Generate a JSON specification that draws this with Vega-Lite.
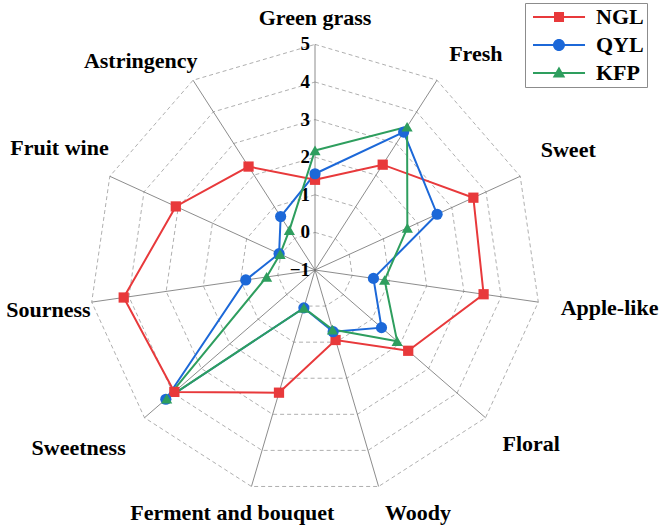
{
  "$schema": "https://vega.github.io/schema/vega-lite/v6.json",
  "width": 666,
  "height": 529,
  "autosize": {"type": "none"},
  "padding": 0,
  "background": "white",
  "config": {"view": {"stroke": null}, "font": "Liberation Serif"},
  "datasets": {
    "scores": [
      {"attribute": "Green grass", "i": 0, "sample": "NGL", "value": 1.4},
      {"attribute": "Fresh", "i": 1, "sample": "NGL", "value": 2.33},
      {"attribute": "Sweet", "i": 2, "sample": "NGL", "value": 3.63},
      {"attribute": "Apple-like", "i": 3, "sample": "NGL", "value": 3.53},
      {"attribute": "Floral", "i": 4, "sample": "NGL", "value": 2.28},
      {"attribute": "Woody", "i": 5, "sample": "NGL", "value": 0.94},
      {"attribute": "Ferment and bouquet", "i": 6, "sample": "NGL", "value": 2.4},
      {"attribute": "Sweetness", "i": 7, "sample": "NGL", "value": 3.95},
      {"attribute": "Sourness", "i": 8, "sample": "NGL", "value": 4.14},
      {"attribute": "Fruit wine", "i": 9, "sample": "NGL", "value": 3.07},
      {"attribute": "Astringency", "i": 10, "sample": "NGL", "value": 2.27},
      {"attribute": "Green grass", "i": 0, "sample": "QYL", "value": 1.56},
      {"attribute": "Fresh", "i": 1, "sample": "QYL", "value": 3.36},
      {"attribute": "Sweet", "i": 2, "sample": "QYL", "value": 2.57},
      {"attribute": "Apple-like", "i": 3, "sample": "QYL", "value": 0.57},
      {"attribute": "Floral", "i": 4, "sample": "QYL", "value": 1.34},
      {"attribute": "Woody", "i": 5, "sample": "QYL", "value": 0.71},
      {"attribute": "Ferment and bouquet", "i": 6, "sample": "QYL", "value": 0.05},
      {"attribute": "Sweetness", "i": 7, "sample": "QYL", "value": 4.25},
      {"attribute": "Sourness", "i": 8, "sample": "QYL", "value": 0.86},
      {"attribute": "Fruit wine", "i": 9, "sample": "QYL", "value": 0.05},
      {"attribute": "Astringency", "i": 10, "sample": "QYL", "value": 0.69},
      {"attribute": "Green grass", "i": 0, "sample": "KFP", "value": 2.18},
      {"attribute": "Fresh", "i": 1, "sample": "KFP", "value": 3.53},
      {"attribute": "Sweet", "i": 2, "sample": "KFP", "value": 1.7},
      {"attribute": "Apple-like", "i": 3, "sample": "KFP", "value": 0.87},
      {"attribute": "Floral", "i": 4, "sample": "KFP", "value": 1.89},
      {"attribute": "Woody", "i": 5, "sample": "KFP", "value": 0.65},
      {"attribute": "Ferment and bouquet", "i": 6, "sample": "KFP", "value": 0.05},
      {"attribute": "Sweetness", "i": 7, "sample": "KFP", "value": 4.22},
      {"attribute": "Sourness", "i": 8, "sample": "KFP", "value": 0.3},
      {"attribute": "Fruit wine", "i": 9, "sample": "KFP", "value": 0.02},
      {"attribute": "Astringency", "i": 10, "sample": "KFP", "value": 0.26}
    ],
    "axes": [
      {"axis": "Green grass", "i": 0, "rings": [0, 1, 2, 3, 4, 5]},
      {"axis": "Fresh", "i": 1, "rings": [0, 1, 2, 3, 4, 5]},
      {"axis": "Sweet", "i": 2, "rings": [0, 1, 2, 3, 4, 5]},
      {"axis": "Apple-like", "i": 3, "rings": [0, 1, 2, 3, 4, 5]},
      {"axis": "Floral", "i": 4, "rings": [0, 1, 2, 3, 4, 5]},
      {"axis": "Woody", "i": 5, "rings": [0, 1, 2, 3, 4, 5]},
      {"axis": "Ferment and bouquet", "i": 6, "rings": [0, 1, 2, 3, 4, 5]},
      {"axis": "Sweetness", "i": 7, "rings": [0, 1, 2, 3, 4, 5]},
      {"axis": "Sourness", "i": 8, "rings": [0, 1, 2, 3, 4, 5]},
      {"axis": "Fruit wine", "i": 9, "rings": [0, 1, 2, 3, 4, 5]},
      {"axis": "Astringency", "i": 10, "rings": [0, 1, 2, 3, 4, 5]}
    ],
    "ticks": [
      {"level": -1}, {"level": 0}, {"level": 1}, {"level": 2}, {"level": 3}, {"level": 4}, {"level": 5}
    ]
  },
  "layer": [
    {
      "data": {"name": "axes"},
      "transform": [
        {"flatten": ["rings"]},
        {"calculate": "datum.i * 2 * PI / 11", "as": "ang"},
        {"calculate": "(datum.rings + 1) * sin(datum.ang)", "as": "px"},
        {"calculate": "(datum.rings + 1) * cos(datum.ang)", "as": "py"}
      ],
      "mark": {"type": "line", "interpolate": "linear-closed", "stroke": "#9a9a9a", "strokeWidth": 0.8, "strokeDash": [4, 3]},
      "encoding": {
        "x": {"field": "px", "type": "quantitative", "scale": {"domain": [-8.378, 9.335], "nice": false, "zero": false}, "axis": null},
        "y": {"field": "py", "type": "quantitative", "scale": {"domain": [-6.888, 7.181], "nice": false, "zero": false}, "axis": null},
        "detail": {"field": "rings", "type": "nominal"},
        "order": {"field": "i", "type": "quantitative"}
      }
    },
    {
      "data": {"name": "axes"},
      "transform": [
        {"calculate": "datum.i * 2 * PI / 11", "as": "ang"},
        {"calculate": "0", "as": "cx"},
        {"calculate": "6 * sin(datum.ang)", "as": "ox"},
        {"calculate": "6 * cos(datum.ang)", "as": "oy"}
      ],
      "mark": {"type": "rule", "stroke": "#6e6e6e", "strokeWidth": 0.8},
      "encoding": {
        "x": {"field": "cx", "type": "quantitative"},
        "y": {"field": "cx", "type": "quantitative"},
        "x2": {"field": "ox"},
        "y2": {"field": "oy"}
      }
    },
    {
      "data": {"name": "ticks"},
      "transform": [
        {"calculate": "0", "as": "cx"},
        {"calculate": "datum.level + 1", "as": "r"}
      ],
      "mark": {"type": "text", "align": "right", "baseline": "middle", "dx": -5, "fontSize": 19, "fontWeight": "bold", "font": "Liberation Serif", "color": "black"},
      "encoding": {
        "x": {"field": "cx", "type": "quantitative"},
        "y": {"field": "r", "type": "quantitative"},
        "text": {"field": "level", "type": "quantitative"}
      }
    },
    {
      "data": {"name": "scores"},
      "transform": [
        {"calculate": "datum.i * 2 * PI / 11", "as": "ang"},
        {"calculate": "(datum.value + 1) * sin(datum.ang)", "as": "px"},
        {"calculate": "(datum.value + 1) * cos(datum.ang)", "as": "py"}
      ],
      "mark": {"type": "line", "interpolate": "linear-closed", "strokeWidth": 2},
      "encoding": {
        "x": {"field": "px", "type": "quantitative"},
        "y": {"field": "py", "type": "quantitative"},
        "order": {"field": "i", "type": "quantitative"},
        "color": {
          "field": "sample",
          "type": "nominal",
          "scale": {"domain": ["NGL", "QYL", "KFP"], "range": ["#E8393B", "#1C68D8", "#2E9E5E"]},
          "legend": {
            "title": null,
            "orient": "none",
            "legendX": 525,
            "legendY": 3,
            "direction": "vertical",
            "strokeColor": "#8c8c8c",
            "fillColor": "white",
            "padding": 3,
            "rowPadding": 6,
            "labelFont": "Liberation Serif",
            "labelFontSize": 22,
            "labelFontWeight": "bold",
            "labelColor": "black",
            "labelOffset": 46,
            "symbolSize": 144,
            "symbolStrokeWidth": 0,
            "symbolOpacity": 1
          }
        }
      }
    },
    {
      "data": {"name": "scores"},
      "transform": [
        {"calculate": "datum.i * 2 * PI / 11", "as": "ang"},
        {"calculate": "(datum.value + 1) * sin(datum.ang)", "as": "px"},
        {"calculate": "(datum.value + 1) * cos(datum.ang)", "as": "py"}
      ],
      "mark": {"type": "point", "filled": true, "opacity": 0, "size": 10},
      "encoding": {
        "x": {"field": "px", "type": "quantitative"},
        "y": {"field": "py", "type": "quantitative"},
        "color": {"field": "sample", "type": "nominal"},
        "shape": {
          "field": "sample",
          "type": "nominal",
          "scale": {
            "domain": ["NGL", "QYL", "KFP"],
            "range": [
              "M-1,-0.17H7.67V0.17H-1ZM2.5,-0.83H4.17V0.83H2.5Z",
              "M-1,-0.17H7.67V0.17H-1ZM4.33,0A1,1,0,1,1,2.33,0A1,1,0,1,1,4.33,0Z",
              "M-1,-0.17H7.67V0.17H-1ZM3.33,-1.1L4.38,0.75H2.28Z"
            ]
          },
          "legend": {
            "title": null,
            "orient": "none",
            "legendX": 525,
            "legendY": 3,
            "direction": "vertical",
            "strokeColor": "#8c8c8c",
            "fillColor": "white",
            "padding": 3,
            "rowPadding": 6,
            "labelFont": "Liberation Serif",
            "labelFontSize": 22,
            "labelFontWeight": "bold",
            "labelColor": "black",
            "labelOffset": 46,
            "symbolSize": 144,
            "symbolStrokeWidth": 0,
            "symbolOpacity": 1
          }
        }
      }
    },
    {
      "data": {"name": "scores"},
      "transform": [
        {"filter": "datum.sample === 'NGL'"},
        {"calculate": "datum.i * 2 * PI / 11", "as": "ang"},
        {"calculate": "(datum.value + 1) * sin(datum.ang)", "as": "px"},
        {"calculate": "(datum.value + 1) * cos(datum.ang)", "as": "py"}
      ],
      "mark": {"type": "point", "filled": true, "opacity": 1, "size": 105, "shape": "square"},
      "encoding": {
        "x": {"field": "px", "type": "quantitative"},
        "y": {"field": "py", "type": "quantitative"},
        "color": {"field": "sample", "type": "nominal"}
      }
    },
    {
      "data": {"name": "scores"},
      "transform": [
        {"filter": "datum.sample === 'QYL'"},
        {"calculate": "datum.i * 2 * PI / 11", "as": "ang"},
        {"calculate": "(datum.value + 1) * sin(datum.ang)", "as": "px"},
        {"calculate": "(datum.value + 1) * cos(datum.ang)", "as": "py"}
      ],
      "mark": {"type": "point", "filled": true, "opacity": 1, "size": 125, "shape": "circle"},
      "encoding": {
        "x": {"field": "px", "type": "quantitative"},
        "y": {"field": "py", "type": "quantitative"},
        "color": {"field": "sample", "type": "nominal"}
      }
    },
    {
      "data": {"name": "scores"},
      "transform": [
        {"filter": "datum.sample === 'KFP'"},
        {"calculate": "datum.i * 2 * PI / 11", "as": "ang"},
        {"calculate": "(datum.value + 1) * sin(datum.ang)", "as": "px"},
        {"calculate": "(datum.value + 1) * cos(datum.ang)", "as": "py"}
      ],
      "mark": {"type": "point", "filled": true, "opacity": 1, "size": 125, "shape": "triangle-up"},
      "encoding": {
        "x": {"field": "px", "type": "quantitative"},
        "y": {"field": "py", "type": "quantitative"},
        "color": {"field": "sample", "type": "nominal"}
      }
    },
    {
      "data": {"name": "axes"},
      "transform": [
        {"calculate": "datum.i * 2 * PI / 11", "as": "ang"},
        {"filter": "sin(datum.ang) > 0.1"},
        {"calculate": "6.6 * sin(datum.ang)", "as": "lx"},
        {"calculate": "6 * cos(datum.ang) + (cos(datum.ang) > 0.3 ? 0.7 : cos(datum.ang) < -0.3 ? -0.7 : -0.15)", "as": "ly"}
      ],
      "mark": {"type": "text", "align": "left", "baseline": "middle", "fontSize": 22, "fontWeight": "bold", "font": "Liberation Serif", "color": "black"},
      "encoding": {
        "x": {"field": "lx", "type": "quantitative"},
        "y": {"field": "ly", "type": "quantitative"},
        "text": {"field": "axis", "type": "nominal"}
      }
    },
    {
      "data": {"name": "axes"},
      "transform": [
        {"calculate": "datum.i * 2 * PI / 11", "as": "ang"},
        {"filter": "sin(datum.ang) < -0.3"},
        {"calculate": "6 * sin(datum.ang) + (cos(datum.ang) < -0.3 ? -0.5 : cos(datum.ang) > 0.6 ? 0.12 : -0.03)", "as": "lx"},
        {"calculate": "6 * cos(datum.ang) + (cos(datum.ang) > 0.6 ? 0.5 : cos(datum.ang) > 0.3 ? 0.75 : cos(datum.ang) < -0.3 ? -0.8 : -0.2)", "as": "ly"}
      ],
      "mark": {"type": "text", "align": "right", "baseline": "middle", "fontSize": 22, "fontWeight": "bold", "font": "Liberation Serif", "color": "black"},
      "encoding": {
        "x": {"field": "lx", "type": "quantitative"},
        "y": {"field": "ly", "type": "quantitative"},
        "text": {"field": "axis", "type": "nominal"}
      }
    },
    {
      "data": {"name": "axes"},
      "transform": [
        {"calculate": "datum.i * 2 * PI / 11", "as": "ang"},
        {"filter": "sin(datum.ang) <= 0.1 && sin(datum.ang) >= -0.3"},
        {"calculate": "7.8 * sin(datum.ang)", "as": "lx"},
        {"calculate": "6 * cos(datum.ang) + (cos(datum.ang) > 0.3 ? 0.7 : cos(datum.ang) < -0.3 ? -0.7 : 0)", "as": "ly"}
      ],
      "mark": {"type": "text", "align": "center", "baseline": "middle", "fontSize": 22, "fontWeight": "bold", "font": "Liberation Serif", "color": "black"},
      "encoding": {
        "x": {"field": "lx", "type": "quantitative"},
        "y": {"field": "ly", "type": "quantitative"},
        "text": {"field": "axis", "type": "nominal"}
      }
    }
  ]
}
